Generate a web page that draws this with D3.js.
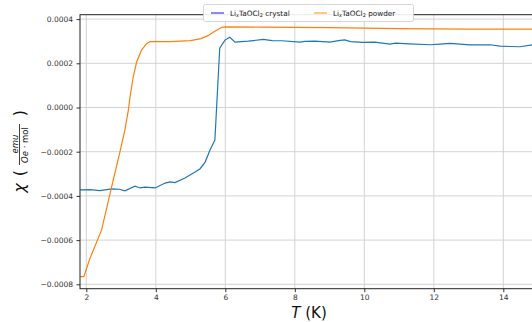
<!DOCTYPE html>
<html><head><meta charset="utf-8">
<script src="https://cdn.jsdelivr.net/npm/d3@7"></script>
<style>body{margin:0;background:#fff;}svg{display:block;font-family:"DejaVu Sans",sans-serif;}</style>
</head><body><svg id="c" width="532" height="322"></svg>
<script>
const tempCrystal = [1.82,2.11,2.39,2.73,2.95,3.11,3.40,3.55,3.69,3.98,4.27,4.41,4.55,4.84,5.13,5.27,5.42,5.56,5.70,5.84,5.99,6.13,6.28,6.66,7.09,7.35,7.63,8.15,8.29,8.58,9.01,9.30,9.44,9.60,9.96,10.3,10.74,10.9,11.3,11.89,12.18,12.47,13.04,13.62,13.9,14.19,14.48,14.83,15.2];
const chiCrystal = [-0.000373,-0.000372,-0.000376,-0.000368,-0.000370,-0.000377,-0.000356,-0.000364,-0.000360,-0.000364,-0.000342,-0.000337,-0.000340,-0.000319,-0.000292,-0.000278,-0.000247,-0.000192,-0.000147,0.000268,0.000305,0.000318,0.000296,0.000300,0.000308,0.000303,0.000302,0.000296,0.000299,0.000300,0.000296,0.000304,0.000306,0.000298,0.000295,0.000296,0.000287,0.000291,0.000288,0.000284,0.000287,0.000290,0.000283,0.000284,0.000278,0.000276,0.000275,0.000283,0.000282];
const tempPowder = [1.82,1.93,2.1,2.44,2.72,2.97,3.11,3.21,3.26,3.35,3.45,3.59,3.74,3.83,4.4,5.0,5.3,5.5,5.7,5.9,6.0,7,8,9,10,11,12,13,14,15.2];
const chiPowder = [-0.000765,-0.000765,-0.000685,-0.000554,-0.000365,-0.000200,-0.000102,-0.000012,0.000049,0.000139,0.000207,0.00026,0.00029,0.000298,0.000298,0.000303,0.000312,0.000325,0.000345,0.000363,0.000365,0.000364,0.000363,0.000361,0.000359,0.000357,0.000356,0.000355,0.000355,0.000355];
const xTicks = [2,4,6,8,10,12,14];
const yTicks = [0.0004,0.0002,0,-0.0002,-0.0004,-0.0006,-0.0008];
const seriesNames = ["crystal","powder"];

const svg = d3.select("#c");
const L = 80, T = 14.7, B = 288.7, R = 560;
const x = d3.scaleLinear().domain([2,14]).range([86.3,503.3]);
x.domain([x.invert(L), x.invert(R)]).range([L,R]);
const y = d3.scaleLinear().domain([0,0.0002]).range([107.5,63.3]);
y.domain([y.invert(B), y.invert(T)]).range([B,T]);

svg.append("defs").append("clipPath").attr("id","clip")
  .append("rect").attr("x",L).attr("y",T).attr("width",R-L).attr("height",B-T);

// grid
const g = svg.append("g");
g.selectAll(".gx").data(xTicks).join("line")
  .attr("x1",d=>x(d)).attr("x2",d=>x(d)).attr("y1",T).attr("y2",B)
  .attr("stroke","#d3d3d3").attr("stroke-width",1);
g.selectAll(".gy").data(yTicks).join("line")
  .attr("x1",L).attr("x2",R).attr("y1",d=>y(d)).attr("y2",d=>y(d))
  .attr("stroke","#d3d3d3").attr("stroke-width",1);

const line = d3.line().x(d=>x(d[0])).y(d=>y(d[1]));
const plot = svg.append("g").attr("clip-path","url(#clip)");
plot.append("path").datum(tempCrystal.map((t,i)=>[t,chiCrystal[i]]))
  .attr("d",line).attr("fill","none").attr("stroke","#1f77b4").attr("stroke-width",1.2);
plot.append("path").datum(tempPowder.map((t,i)=>[t,chiPowder[i]]))
  .attr("d",line).attr("fill","none").attr("stroke","#ff7f0e").attr("stroke-width",1.2);

// axes
const fmt = d => (d<0?"\u2212":"") + Math.abs(d).toFixed(4);
const ax = svg.append("g").attr("transform",`translate(0,${B})`)
  .call(d3.axisBottom(x).tickValues(xTicks).tickSize(3.5).tickPadding(2.5).tickFormat(d3.format("d")));
const ay = svg.append("g").attr("transform",`translate(${L},0)`)
  .call(d3.axisLeft(y).tickValues(yTicks).tickSize(3.5).tickPadding(3.5).tickFormat(fmt));
[ax,ay].forEach(a=>{a.select(".domain").remove();a.selectAll("line").attr("stroke","#333");a.selectAll("text").attr("fill","#333").attr("font-family","DejaVu Sans");});
ax.selectAll("text").attr("font-size","7.5px");
ay.selectAll("text").attr("font-size","7.5px");
// spines
svg.append("rect").attr("x",L).attr("y",T).attr("width",R-L).attr("height",B-T)
  .attr("fill","none").attr("stroke","#222").attr("stroke-width",1);

// x label
const xl = svg.append("text").attr("x",309).attr("y",318).attr("text-anchor","middle")
  .attr("font-size","15px").attr("fill","#111");
xl.append("tspan").attr("font-style","italic").text("T");
xl.append("tspan").text(" (K)");

// y label
const yl = svg.append("g").attr("transform","translate(25,150) rotate(-90)").attr("fill","#111");
yl.append("text").attr("x",-38).attr("y",0).attr("text-anchor","middle").attr("font-size","16px").attr("font-style","italic").text("\u03c7");
yl.append("text").attr("x",-23).attr("y",0).attr("text-anchor","middle").attr("font-size","16px").text("(");
yl.append("line").attr("x1",-15).attr("x2",26).attr("y1",-5.5).attr("y2",-5.5).attr("stroke","#111").attr("stroke-width",0.8);
yl.append("text").attr("x",6).attr("y",-7.5).attr("text-anchor","middle").attr("font-size","8.5px").attr("font-style","italic").text("emu");
const den = yl.append("text").attr("x",5).attr("y",3).attr("text-anchor","middle").attr("font-size","8.5px");
den.append("tspan").attr("font-style","italic").text("Oe");
den.append("tspan").text(" \u00b7 mol");
yl.append("text").attr("x",37).attr("y",0).attr("text-anchor","middle").attr("font-size","16px").text(")");

// legend
const lg = svg.append("g");
lg.append("rect").attr("x",203.5).attr("y",4.5).attr("width",210).attr("height",17).attr("rx",2)
  .attr("fill","#fff").attr("fill-opacity",0.9).attr("stroke","#ccc").attr("stroke-width",0.8);
const legColors = ["#3a3aff","#ffa530"];
const legX = [211,314];
seriesNames.forEach((s,i)=>{
  lg.append("line").attr("x1",legX[i]).attr("x2",legX[i]+13).attr("y1",13).attr("y2",13)
    .attr("stroke",legColors[i]).attr("stroke-width",1.2);
  const t = lg.append("text").attr("x",legX[i]+19).attr("y",15.7).attr("font-size","7.3px").attr("fill","#222");
  t.append("tspan").text("Li");
  t.append("tspan").attr("font-size","5px").attr("dy",1.5).attr("font-style","italic").text("x");
  t.append("tspan").attr("dy",-1.5).text("TaOCl");
  t.append("tspan").attr("font-size","5px").attr("dy",1.5).text("2");
  t.append("tspan").attr("dy",-1.5).text(" "+s);
});
</script></body></html>
